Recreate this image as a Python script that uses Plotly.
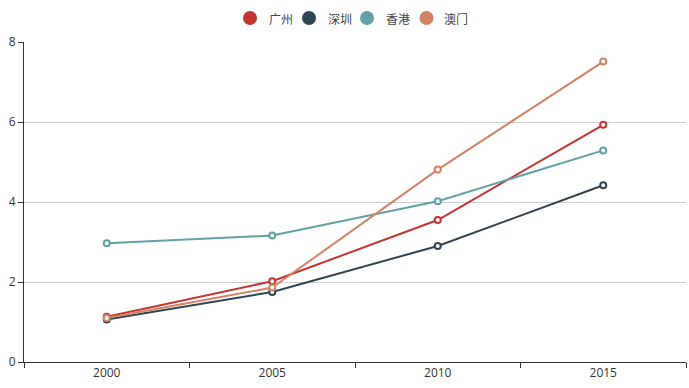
import plotly.graph_objects as go

years = ["2000", "2005", "2010", "2015"]
names = ["广州", "深圳", "香港", "澳门"]
guangzhou = [1.13, 2.02, 3.55, 5.93]
shenzhen = [1.06, 1.75, 2.90, 4.42]
hongkong = [2.97, 3.16, 4.02, 5.29]
macau = [1.10, 1.86, 4.81, 7.51]
series = [guangzhou, shenzhen, hongkong, macau]
colors = ["#c23531", "#2f4554", "#61a0a8", "#d48265"]

W, H = 689, 388
L, R, T, B = 24, 3, 42, 26
pw = W - L - R
ph = H - T - B

fig = go.Figure()
for nm, vals, c in zip(names, series, colors):
    fig.add_trace(go.Scatter(
        x=years, y=vals, name=nm, mode="lines+markers",
        line=dict(color=c, width=2),
        marker=dict(symbol="circle", size=6, color="white", line=dict(color=c, width=2)),
        showlegend=False,
    ))

# custom legend (ECharts style)
legend_cx = [250, 309, 367, 426.5]
legend_tx = [267, 326, 384, 442]
legend_cy = 18
shapes = []
annotations = []
for cx, tx, nm, c in zip(legend_cx, legend_tx, names, colors):
    r = 7
    shapes.append(dict(type="circle", xref="paper", yref="paper",
                       x0=(cx - r - L) / pw, x1=(cx + r - L) / pw,
                       y0=(H - B - (legend_cy + r)) / ph, y1=(H - B - (legend_cy - r)) / ph,
                       fillcolor=c, line=dict(width=0)))
    annotations.append(dict(text=nm, xref="paper", yref="paper",
                            x=(tx - L) / pw, y=(H - B - legend_cy) / ph,
                            xanchor="left", yanchor="middle", showarrow=False,
                            font=dict(size=12, color="#444", family="Noto Sans CJK SC")))

fig.update_layout(
    width=W, height=H,
    margin=dict(l=L, r=R, t=T, b=B, autoexpand=False),
    plot_bgcolor="white", paper_bgcolor="white",
    font=dict(family="Open Sans, sans-serif", size=12, color="#333"),
    shapes=shapes, annotations=annotations,
    showlegend=False,
    xaxis=dict(type="category", range=[-0.5, 3.5], tickson="boundaries",
               ticks="outside", ticklen=5, tickcolor="#333",
               showline=True, linecolor="#333", linewidth=1, automargin=False,
               showgrid=False, zeroline=False, fixedrange=True,
               tickfont=dict(size=12, color="#333", family="Open Sans")),
    yaxis=dict(range=[0, 8], dtick=2, ticks="outside", ticklen=5, tickcolor="#333",
               showline=True, linecolor="#333", linewidth=1, automargin=False,
               showgrid=True, gridcolor="#ccc", gridwidth=1, zeroline=False,
               tickfont=dict(size=12, color="#333", family="Open Sans")),
)

fig.write_html("out.html", config={"displayModeBar": False},
               post_script="document.body.style.margin='0';document.body.style.padding='0';")
